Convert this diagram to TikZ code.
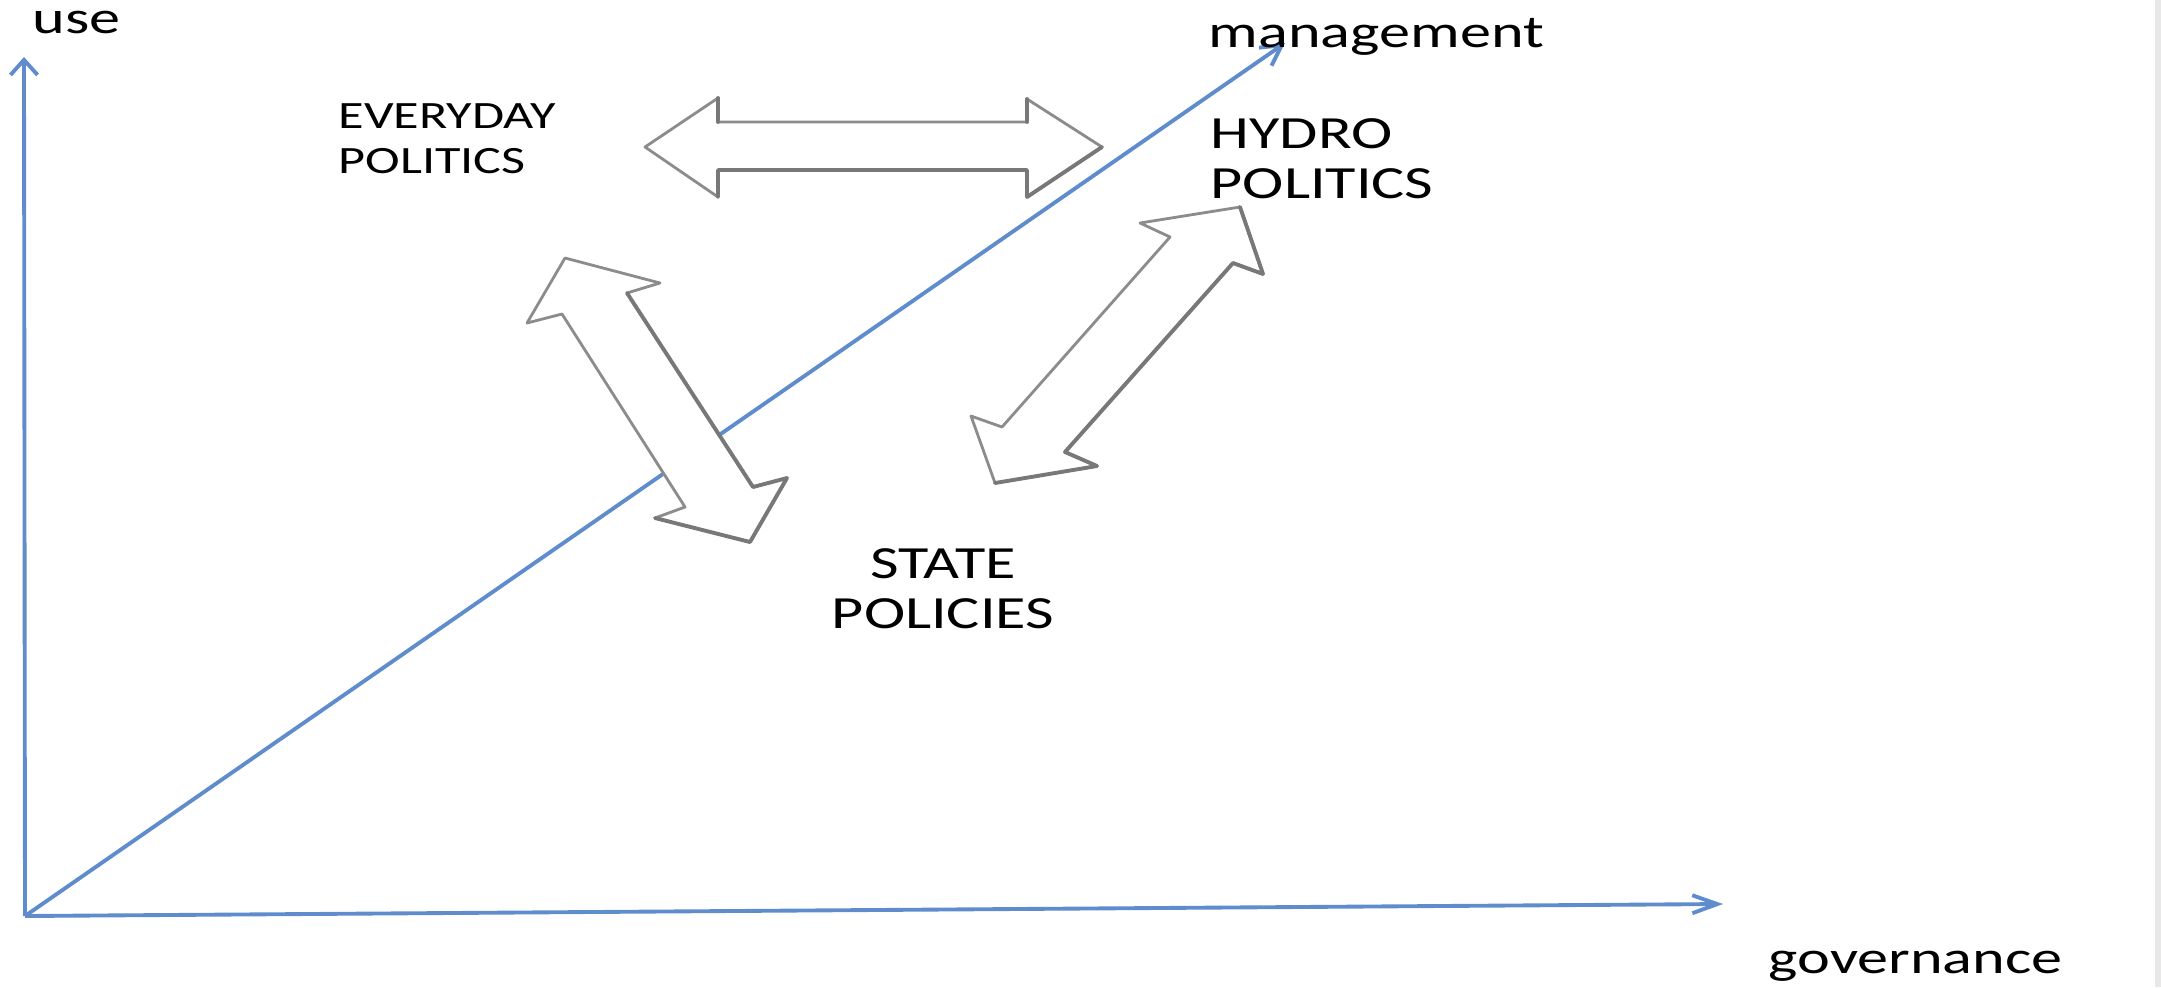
\documentclass[tikz,border=0pt]{standalone}
\usepackage{fontspec}
\setmainfont{Carlito}[FakeStretch=1.35]
\usepackage{tikz}
\usetikzlibrary{arrows.meta}
\definecolor{axisblue}{RGB}{95,140,205}
\definecolor{arrowgray}{RGB}{140,140,140}
\definecolor{shadegray}{RGB}{120,120,120}

\tikzset{
	axis/.style={axisblue,line width=1.1pt},
	blockarrow/.style={draw=arrowgray,fill=white,line width=0.8pt,line join=round},
	shadeedge/.style={shadegray,line width=1.1pt,line cap=round,line join=round},
	label/.style={inner sep=0pt,text=black},
	biglabel/.style={label,font=\fontsize{13.1}{14.2}\selectfont},
}

\begin{document}
\begin{tikzpicture}[x=0.01cm,y=-0.01cm]
	\useasboundingbox (0,0) rectangle (2161,987);
	\fill[gray!18] (2155,0) rectangle (2161,987);

	% axes
	\coordinate (O) at (25,916);
	\coordinate (use end) at (24,57);
	\coordinate (gov end) at (1723,904);
	\coordinate (man end) at (1285,43);
	\draw[axis,-{Straight Barb[length=0.15cm,width=0.27cm]}] (O) -- (use end);
	\draw[axis,-{Straight Barb[length=0.25cm,width=0.18cm]}] (O) -- (gov end);
	\draw[axis,-{Straight Barb[length=0.2cm,width=0.22cm]}] (O) -- (man end);

	\node[biglabel,anchor=base west] (use) at (32,33) {use};
	\node[biglabel,anchor=base west] (management) at (1208,47) {management};
	\node[biglabel,anchor=base west] (governance) at (1768,973) {governance};

	\node[label,anchor=north west,align=left,font=\fontsize{11}{12.8}\selectfont] (everyday) at (338,103) {EVERYDAY\\POLITICS};
	\node[biglabel,anchor=north west,align=left] (hydro) at (1210,118) {HYDRO\\POLITICS};
	\node[biglabel,anchor=north,align=center] (state) at (943,548) {STATE\\POLICIES};

	% block arrows
	\draw[blockarrow] (645,147) -- (718,98) -- (718,122) -- (1027,122) -- (1027,99) -- (1102,147)
		-- (1027,197) -- (1027,170) -- (718,170) -- (718,197) -- cycle;
	\draw[shadeedge] (718,98) -- (718,122);
	\draw[shadeedge] (1027,99) -- (1027,122);
	\draw[shadeedge] (718,197) -- (718,170) -- (1027,170) -- (1027,197) -- (1102,147);

	\draw[blockarrow] (565,258) -- (660,283) -- (627,293) -- (753,487) -- (787,478) -- (750,542)
		-- (655,518) -- (685,507) -- (562,314) -- (527,323) -- cycle;
	\draw[shadeedge] (627,293) -- (753,487) -- (787,478) -- (750,542) -- (655,518);

	\draw[blockarrow] (1240,207) -- (1263,274) -- (1233,263) -- (1065,452) -- (1097,466) -- (995,483)
		-- (971,416) -- (1002,427) -- (1170,237) -- (1140,223) -- cycle;
	\draw[shadeedge] (1240,207) -- (1263,274) -- (1233,263) -- (1065,452) -- (1097,466) -- (995,483);
\end{tikzpicture}
\end{document}
